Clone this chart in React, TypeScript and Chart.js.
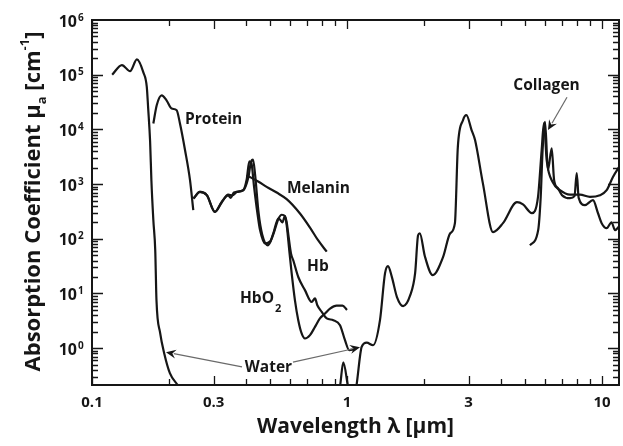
import { useEffect, useRef } from "react";
import { Chart, registerables } from "chart.js";
Chart.register(...registerables);

const FONT = "'Open Sans', 'DejaVu Sans', sans-serif";
const INK = "#161616";

// Axis ticks
const xTickValues = [0.1, 0.3, 1, 3, 10];
const xTickLabels = ["0.1", "0.3", "1", "3", "10"];
const yDecadeExponents = [0, 1, 2, 3, 4, 5, 6];

// Water (wavelength in µm, absorption in cm^-1)
const waterWavelength = [
  0.12, 0.131, 0.141, 0.15, 0.159, 0.164, 0.166, 0.169, 0.171, 0.174, 0.177, 0.179, 0.185, 0.192,
  0.202, 0.217, 0.25, 0.9, 0.939, 0.967, 1.009, 1.05, 1.09, 1.142, 1.195, 1.265, 1.347, 1.41, 1.448,
  1.5, 1.57, 1.66, 1.77, 1.85, 1.9, 1.93, 2.02, 2.17, 2.38, 2.54, 2.65, 2.72, 2.85, 2.94, 3.08, 3.18,
  3.41, 3.74, 4.09, 4.64, 4.9, 5.31, 5.61, 5.8, 5.92, 6.07, 6.44, 6.84, 7.49, 8.2, 8.97, 9.82, 10.43,
  11.04, 11.77,
];
const waterMu = [
  1.0e5, 1.5e5, 1.16e5, 1.9e5, 1.1e5, 6e4, 2.5e4, 6e3, 1.15e3, 220, 62, 7.5, 1.9, 0.8,
  0.35, 0.21, 0.08, 0.08, 0.2, 0.55, 0.2, 0.08, 0.21, 1.06, 1.26, 1.13, 3.25, 23.5, 31.6,
  19.9, 8.6, 5.86, 9.3, 23.5, 116, 126, 48, 21.6, 46, 126, 193, 4.7e3, 1.47e4, 1.82e4, 9.7e3, 6.3e3,
  1.04e3, 132, 193, 467, 424, 294, 575, 4.2e3, 1.3e4, 2.7e3, 1.04e3, 773, 640, 640, 583, 627, 773,
  1.35e3, 2.2e3,
];

// Protein
const proteinWavelength = [0.174, 0.1794, 0.1876, 0.196, 0.2054, 0.2148, 0.2213, 0.2316, 0.2423, 0.2496];
const proteinMu = [1.28e4, 2.77e4, 4.2e4, 3.4e4, 2.4e4, 2.24e4, 1.28e4, 4.2e3, 1.18e3, 333];

// Melanin
const melaninWavelength = [0.404, 0.45, 0.484, 0.53, 0.58, 0.654, 0.716, 0.77, 0.833];
const melaninMu = [1.45e3, 1.1e3, 889, 700, 530, 290, 160, 94, 58];

// Deoxy-haemoglobin (Hb)
const hbWavelength = [
  0.25, 0.265, 0.282, 0.3035, 0.3226, 0.342, 0.35, 0.36, 0.392, 0.41, 0.42, 0.428, 0.436, 0.45,
  0.465, 0.49, 0.514, 0.538, 0.555, 0.571, 0.58, 0.59, 0.603, 0.616, 0.644, 0.684, 0.727, 0.749,
  0.765, 0.796, 0.833, 0.884, 0.939, 0.982, 1.02, 1.07,
];
const hbMu = [
  545, 720, 627, 310, 473, 620, 560, 700, 773, 1.3e3, 2.5e3, 2.8e3, 1.5e3, 300,
  120, 76, 120, 230, 275, 260, 200, 110, 54, 40, 20, 11.5, 7.0, 8.1,
  6.1, 4.6, 3.5, 3.25, 2.63, 1.4, 0.92, 0.95,
];

// Oxy-haemoglobin (HbO2)
const hbo2Wavelength = [
  0.25, 0.265, 0.282, 0.3035, 0.3226, 0.342, 0.355, 0.37, 0.392, 0.404, 0.414, 0.422, 0.432, 0.445,
  0.456, 0.477, 0.5, 0.514, 0.538, 0.548, 0.558, 0.571, 0.58, 0.594, 0.607, 0.625, 0.644, 0.664,
  0.684, 0.716, 0.749, 0.783, 0.82, 0.858, 0.91, 0.96, 1.0,
];
const hbo2Mu = [
  545, 720, 627, 310, 460, 640, 620, 720, 773, 1.2e3, 2.6e3, 2.4e3, 900, 300,
  144, 82, 90, 125, 235, 220, 200, 259, 177, 60, 23, 7.5, 3.25, 1.86,
  1.5, 1.73, 2.45, 3.5, 4.3, 5.3, 6.0, 6.0, 5.0,
];

// Collagen
const collagenWavelength = [
  5.22, 5.62, 5.75, 5.85, 5.98, 6.14, 6.35, 6.49, 6.72, 6.97, 7.49, 7.8, 7.96, 8.1, 8.57, 9.22,
  9.64, 9.97, 10.43, 10.9, 11.25, 11.77,
];
const collagenMu = [
  76, 144, 583, 4.2e3, 1.37e4, 1.8e3, 4.5e3, 1.18e3, 842, 627, 552, 600, 1.58e3, 560, 413, 508,
  296, 193, 156, 200, 144, 177,
];

// Annotation labels (data coordinates)
const curveLabels = [
  { text: "Protein", x: 0.2317, y: 1.54e4, align: "left" },
  { text: "Melanin", x: 0.5816, y: 841, align: "left" },
  { text: "Hb", x: 0.697, y: 31.6, align: "left" },
  { text: "HbO", sub: "2", x: 0.3804, y: 8.2, align: "left" },
  { text: "Water", x: 0.492, y: 0.45, align: "center" },
  { text: "Collagen", x: 6.06, y: 6.2e4, align: "center" },
];
const arrows = [
  { from: [0.3875, 0.455], to: [0.195, 0.845] },
  { from: [0.614, 0.555], to: [1.125, 1.04] },
  { from: [7.29, 3.88e4], to: [6.14, 9.7e3] },
];

const pts = (xs: number[], ys: number[]) => xs.map((x, i) => ({ x, y: ys[i] }));

const decorPlugin = {
  id: "decor",
  afterDraw(chart: any) {
    const { ctx, chartArea, scales } = chart;
    const { left, right, top, bottom } = chartArea;
    const xs = scales.x;
    const ys = scales.y;
    ctx.save();
    // Frame
    ctx.strokeStyle = INK;
    ctx.lineWidth = 2;
    ctx.strokeRect(left, top, right - left, bottom - top);
    // X ticks (inward, top and bottom)
    ctx.lineWidth = 1.3;
    for (let d = -1; d <= 1; d++) {
      for (let m = 1; m <= 9; m++) {
        const v = m * Math.pow(10, d);
        if (v < xs.min || v > xs.max) continue;
        const px = Math.round(xs.getPixelForValue(v)) + 0.5;
        const len = m === 1 || m === 3 ? 9 : 6;
        ctx.beginPath();
        ctx.moveTo(px, bottom);
        ctx.lineTo(px, bottom - len);
        ctx.moveTo(px, top);
        ctx.lineTo(px, top + len);
        ctx.stroke();
      }
    }
    // Y ticks (inward, left and right)
    for (let d = -1; d <= 5; d++) {
      for (let m = 1; m <= 9; m++) {
        const v = m * Math.pow(10, d);
        if (v < ys.min || v > ys.max) continue;
        const py = Math.round(ys.getPixelForValue(v)) + 0.5;
        const len = m === 1 ? 11 : 6;
        ctx.beginPath();
        ctx.moveTo(left, py);
        ctx.lineTo(left + len, py);
        ctx.moveTo(right, py);
        ctx.lineTo(right - len, py);
        ctx.stroke();
      }
    }
    // Y tick labels 10^n
    ctx.fillStyle = INK;
    for (const n of yDecadeExponents) {
      const py = ys.getPixelForValue(Math.pow(10, n));
      ctx.font = `bold 16px ${FONT}`;
      ctx.textAlign = "right";
      ctx.textBaseline = "middle";
      ctx.fillText("10", left - 15, py + 2);
      ctx.font = `bold 10px ${FONT}`;
      ctx.textAlign = "left";
      ctx.textBaseline = "alphabetic";
      ctx.fillText(String(n), left - 14, py + 0.5);
    }
    // Y axis title (rotated, with subscript and superscript)
    const segs = [
      { t: "Absorption Coefficient μ", s: 22, dy: 0 },
      { t: "a", s: 13, dy: 6 },
      { t: " [cm", s: 22, dy: 0 },
      { t: "-1", s: 13, dy: -11 },
      { t: "]", s: 22, dy: 0 },
    ];
    let total = 0;
    for (const g of segs) {
      ctx.font = `bold ${g.s}px ${FONT}`;
      total += ctx.measureText(g.t).width;
    }
    ctx.save();
    ctx.translate(40, (top + bottom) / 2 - 1);
    ctx.rotate(-Math.PI / 2);
    ctx.textAlign = "left";
    ctx.textBaseline = "alphabetic";
    let cx = -total / 2;
    for (const g of segs) {
      ctx.font = `bold ${g.s}px ${FONT}`;
      ctx.fillText(g.t, cx, g.dy);
      cx += ctx.measureText(g.t).width;
    }
    ctx.restore();
    // Curve labels
    ctx.save();
    ctx.beginPath();
    ctx.rect(left, top, right - left, bottom - top);
    ctx.clip();
    for (const lab of curveLabels) {
      const px = xs.getPixelForValue(lab.x);
      const py = ys.getPixelForValue(lab.y);
      ctx.font = `bold 15.5px ${FONT}`;
      ctx.textAlign = lab.align as CanvasTextAlign;
      ctx.textBaseline = "middle";
      ctx.fillText(lab.text, px, py);
      if (lab.sub) {
        const w = ctx.measureText(lab.text).width;
        ctx.font = `bold 11px ${FONT}`;
        ctx.textAlign = "left";
        ctx.fillText(lab.sub, px + w + 1, py + 11);
      }
    }
    // Arrows
    for (const a of arrows) {
      const x1 = xs.getPixelForValue(a.from[0]);
      const y1 = ys.getPixelForValue(a.from[1]);
      const x2 = xs.getPixelForValue(a.to[0]);
      const y2 = ys.getPixelForValue(a.to[1]);
      const ang = Math.atan2(y2 - y1, x2 - x1);
      const hl = 10;
      const hw = 4.5;
      ctx.strokeStyle = "#6a6a6a";
      ctx.lineWidth = 1.2;
      ctx.beginPath();
      ctx.moveTo(x1, y1);
      ctx.lineTo(x2 - Math.cos(ang) * hl * 0.8, y2 - Math.sin(ang) * hl * 0.8);
      ctx.stroke();
      ctx.fillStyle = INK;
      ctx.beginPath();
      ctx.moveTo(x2, y2);
      ctx.lineTo(x2 - Math.cos(ang) * hl - Math.sin(ang) * hw, y2 - Math.sin(ang) * hl + Math.cos(ang) * hw);
      ctx.lineTo(x2 - Math.cos(ang) * hl * 0.65, y2 - Math.sin(ang) * hl * 0.65);
      ctx.lineTo(x2 - Math.cos(ang) * hl + Math.sin(ang) * hw, y2 - Math.sin(ang) * hl - Math.cos(ang) * hw);
      ctx.closePath();
      ctx.fill();
    }
    ctx.restore();
    ctx.restore();
  },
};

export default function App() {
  const ref = useRef<HTMLCanvasElement>(null);
  useEffect(() => {
    const canvas = ref.current;
    if (!canvas) return;
    const line = (data: { x: number; y: number }[]) => ({
      data,
      borderColor: INK,
      borderWidth: 2.2,
      pointRadius: 0,
      fill: false,
      cubicInterpolationMode: "monotone" as const,
    });
    const chart = new Chart(canvas, {
      type: "line",
      data: {
        datasets: [
          line(pts(waterWavelength, waterMu)),
          line(pts(proteinWavelength, proteinMu)),
          line(pts(melaninWavelength, melaninMu)),
          line(pts(hbWavelength, hbMu)),
          line(pts(hbo2Wavelength, hbo2Mu)),
          line(pts(collagenWavelength, collagenMu)),
        ],
      },
      options: {
        responsive: false,
        animation: false,
        events: [],
        layout: { padding: { left: 0, right: 4, top: 20, bottom: 0 } },
        plugins: { legend: { display: false }, tooltip: { enabled: false } },
        scales: {
          x: {
            type: "logarithmic",
            min: 0.1,
            max: 11.66,
            grid: { display: false, drawTicks: false },
            border: { display: false },
            afterBuildTicks: (s: any) => {
              s.ticks = xTickValues.map((v) => ({ value: v }));
            },
            ticks: {
              autoSkip: false,
              maxRotation: 0,
              padding: 9,
              color: INK,
              font: { family: FONT, size: 15, weight: "bold" },
              callback: (_v: any, i: number) => xTickLabels[i],
            },
            title: {
              display: true,
              text: "Wavelength λ [μm]",
              color: INK,
              font: { family: FONT, size: 21, weight: "bold" },
              padding: { top: 0, bottom: 6 },
            },
            afterFit: (s: any) => {
              s.height = 61;
            },
          },
          y: {
            type: "logarithmic",
            min: 0.212,
            max: 1e6,
            grid: { display: false, drawTicks: false },
            border: { display: false },
            ticks: { display: false },
            afterFit: (s: any) => {
              s.width = 92;
            },
          },
        },
      } as any,
      plugins: [decorPlugin],
    });
    return () => chart.destroy();
  }, []);
  return (
    <div style={{ position: "absolute", left: 0, top: 0, width: 623, height: 446, background: "#fff" }}>
      <canvas ref={ref} width={623} height={446} style={{ display: "block" }} />
    </div>
  );
}
